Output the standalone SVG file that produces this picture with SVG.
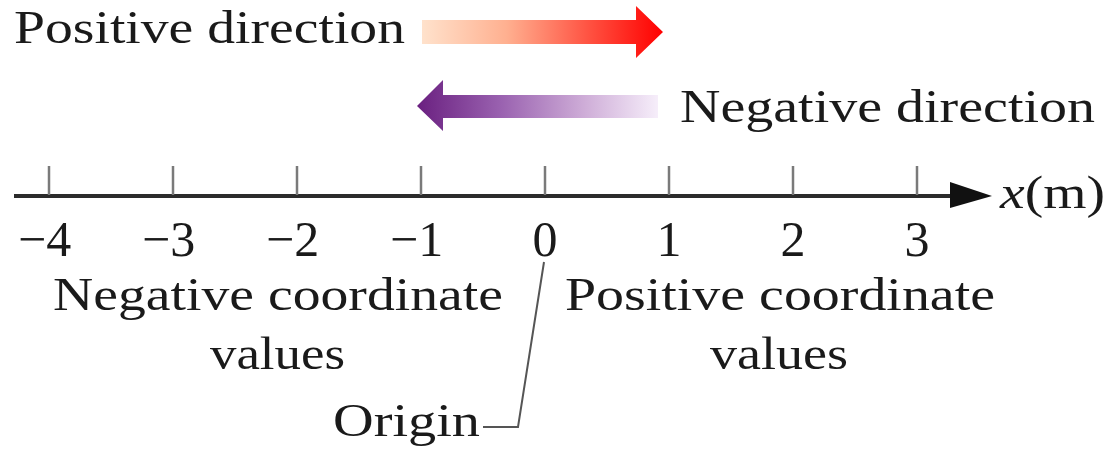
<svg xmlns="http://www.w3.org/2000/svg" width="1109" height="451" viewBox="0 0 1109 451">
<style>
  .t { font-family: "Liberation Serif", "Times New Roman", serif; font-size: 47px; fill: #1a1a1a; }
  .n { font-family: "Liberation Serif", "Times New Roman", serif; font-size: 50px; fill: #1a1a1a; }
  .tick { stroke: #7a7a7a; stroke-width: 2.5; }
  .axis { stroke: #2b2b2b; stroke-width: 4; fill: none; }
  .lead { stroke: #555; stroke-width: 2; fill: none; }
</style>
<defs>
  <linearGradient id="gpos" x1="422" y1="0" x2="663" y2="0" gradientUnits="userSpaceOnUse">
    <stop offset="0" stop-color="#ffe2cc"/>
    <stop offset="0.35" stop-color="#ffb090"/>
    <stop offset="0.7" stop-color="#ff5040"/>
    <stop offset="1" stop-color="#ff0000"/>
  </linearGradient>
  <linearGradient id="gneg" x1="417" y1="0" x2="658" y2="0" gradientUnits="userSpaceOnUse">
    <stop offset="0" stop-color="#6a2080"/>
    <stop offset="0.35" stop-color="#9a62b0"/>
    <stop offset="0.7" stop-color="#cfaed8"/>
    <stop offset="1" stop-color="#f6eefa"/>
  </linearGradient>
  <marker id="axhead" markerWidth="10" markerHeight="8" refX="0" refY="4" orient="auto" markerUnits="userSpaceOnUse" viewBox="0 0 10 8">
    <path d="M0,0 L10,4 L0,8 Z" fill="#111"/>
  </marker>
</defs>

<g id="positive-direction">
  <text class="t" x="14" y="43" textLength="391" lengthAdjust="spacingAndGlyphs">Positive direction</text>
  <path d="M422,20 L636,20 L636,6 L663,32 L636,58 L636,44 L422,44 Z" fill="url(#gpos)"/>
</g>

<g id="negative-direction">
  <path d="M658,95 L443,95 L443,80 L417,106 L443,131 L443,118 L658,118 Z" fill="url(#gneg)"/>
  <text class="t" x="680" y="122" textLength="415" lengthAdjust="spacingAndGlyphs">Negative direction</text>
</g>

<g id="axis">
  <line class="axis" x1="14" y1="196" x2="952" y2="196"/>
  <path d="M950,182 L992,196 L950,208 Z" fill="#111"/>
  <g class="tick-marks">
    <line class="tick" x1="49" y1="166" x2="49" y2="195"/>
    <line class="tick" x1="173" y1="166" x2="173" y2="195"/>
    <line class="tick" x1="297" y1="166" x2="297" y2="195"/>
    <line class="tick" x1="421" y1="166" x2="421" y2="195"/>
    <line class="tick" x1="545" y1="166" x2="545" y2="195"/>
    <line class="tick" x1="669" y1="166" x2="669" y2="195"/>
    <line class="tick" x1="793" y1="166" x2="793" y2="195"/>
    <line class="tick" x1="917" y1="166" x2="917" y2="195"/>
  </g>
  <text class="t" x="1000" y="208" textLength="105" lengthAdjust="spacingAndGlyphs"><tspan font-style="italic">x</tspan>(m)</text>
</g>

<g id="tick-labels">
  <text class="n" x="18" y="256">−4</text>
  <text class="n" x="142" y="256">−3</text>
  <text class="n" x="266" y="256">−2</text>
  <text class="n" x="390" y="256">−1</text>
  <text class="n" x="545" y="256" text-anchor="middle">0</text>
  <text class="n" x="669" y="256" text-anchor="middle">1</text>
  <text class="n" x="793" y="256" text-anchor="middle">2</text>
  <text class="n" x="917" y="256" text-anchor="middle">3</text>
</g>

<g id="negative-values">
  <text class="t" x="53" y="310" textLength="450" lengthAdjust="spacingAndGlyphs">Negative coordinate</text>
  <text class="t" x="210" y="369" textLength="135" lengthAdjust="spacingAndGlyphs">values</text>
</g>

<g id="positive-values">
  <text class="t" x="565" y="310" textLength="430" lengthAdjust="spacingAndGlyphs">Positive coordinate</text>
  <text class="t" x="710" y="369" textLength="138" lengthAdjust="spacingAndGlyphs">values</text>
</g>

<g id="origin">
  <text class="t" x="333" y="436" textLength="147" lengthAdjust="spacingAndGlyphs">Origin</text>
</g>

<g id="connectors">
  <polyline class="lead" points="483,427 518,427 544,262"/>
</g>
</svg>
